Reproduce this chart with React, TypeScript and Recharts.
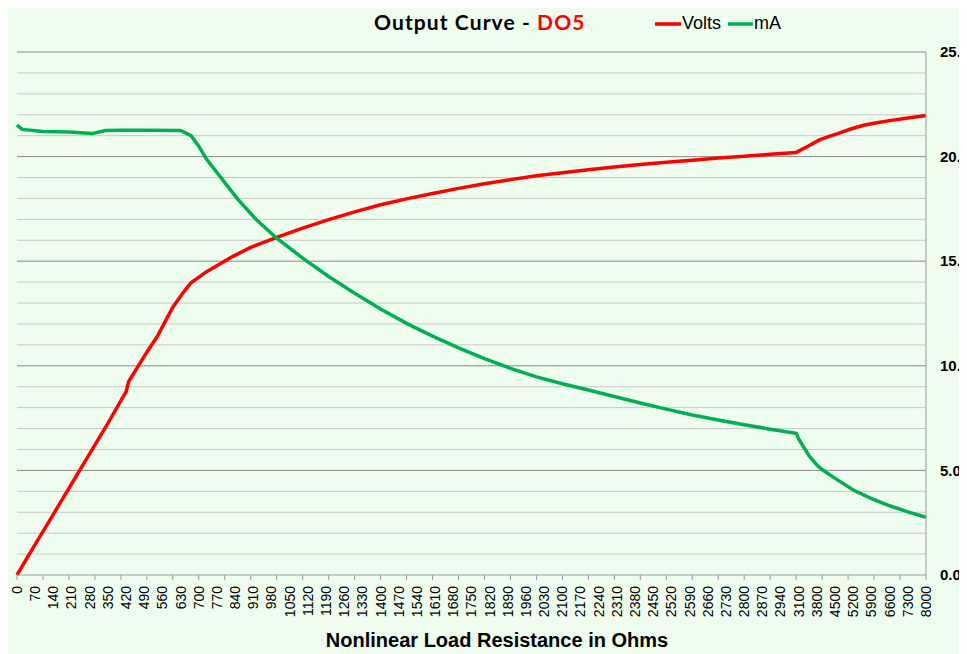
import { LineChart, Line, XAxis, YAxis, ReferenceLine } from "recharts";

// Output curve DO5 — volts and mA vs. nonlinear load resistance

// category axis: 10 ohm steps up to 3000, then 100 ohm steps to 8000
const ohms: number[] = [];
for (let r = 0; r <= 3000; r += 10) ohms.push(r);
for (let r = 3100; r <= 8000; r += 100) ohms.push(r);

// readings taken off the curve [ohms, value]
const voltsReadings: [number, number][] = [
  [0, 0], [70, 1.46], [140, 2.9], [210, 4.35], [280, 5.8], [350, 7.25],
  [410, 8.55], [420, 8.75], [430, 9.25], [500, 10.65], [540, 11.4], [570, 12.1],
  [600, 12.8], [640, 13.5], [670, 13.97], [730, 14.5], [830, 15.22], [900, 15.66],
  [1000, 16.14], [1100, 16.58], [1200, 16.99], [1300, 17.36], [1400, 17.7],
  [1500, 17.98], [1600, 18.24], [1700, 18.48], [1800, 18.7], [1900, 18.9],
  [2000, 19.08], [2100, 19.23], [2200, 19.37], [2300, 19.5], [2400, 19.62],
  [2500, 19.73], [2600, 19.83], [2700, 19.93], [2800, 20.02], [2900, 20.11],
  [3000, 20.2], [3400, 20.46], [3900, 20.8], [4300, 20.98], [4600, 21.1],
  [5100, 21.32], [5600, 21.5], [6100, 21.62], [6600, 21.72], [7300, 21.85],
  [8000, 21.96],
];

const mAReadings: [number, number][] = [
  [0, 21.5], [20, 21.3], [100, 21.2], [200, 21.18], [290, 21.1], [340, 21.25],
  [400, 21.26], [500, 21.26], [630, 21.25], [670, 21.0], [700, 20.5], [730, 19.87],
  [795, 18.88], [850, 17.97], [920, 17.0], [1000, 16.1], [1100, 15.15],
  [1200, 14.27], [1300, 13.47], [1400, 12.71], [1500, 12.03], [1600, 11.42],
  [1700, 10.86], [1800, 10.34], [1900, 9.88], [2000, 9.47], [2100, 9.14],
  [2200, 8.84], [2300, 8.53], [2400, 8.22], [2500, 7.93], [2600, 7.65],
  [2700, 7.41], [2800, 7.18], [2900, 6.97], [3000, 6.77], [3100, 6.5],
  [3200, 6.3], [3300, 6.1], [3500, 5.69], [3800, 5.26], [4000, 5.04],
  [4500, 4.62], [5200, 4.06], [5900, 3.65], [6600, 3.31], [7300, 3.02], [8000, 2.76],
];

const yTicks = [0, 5, 10, 15, 20, 25];
const gridValues = Array.from({ length: 25 }, (_, i) => i + 1);

const volts = new Map(voltsReadings);
const mA = new Map(mAReadings);
const chartData = ohms.map((r) => ({
  name: String(r),
  volts: volts.has(r) ? volts.get(r) : null,
  mA: mA.has(r) ? mA.get(r) : null,
}));

const BG = "#eefdee";
const FONT = "'Liberation Sans', Arial, sans-serif";

function OhmTick(props: any) {
  const { x, y, payload } = props;
  const i = props.index ?? payload?.index ?? 0;
  return (
    <g>
      {i % 10 === 0 && <line x1={x} y1={y} x2={x} y2={y + 5} stroke="#999" strokeWidth={1} />}
      {i % 7 === 0 && (
        <text
          transform={`translate(${x},${y + 11}) rotate(-90)`}
          textAnchor="end"
          dy="0.35em"
          fontSize={14}
          fontFamily={FONT}
          fill="#000"
        >
          {payload.value}
        </text>
      )}
    </g>
  );
}

function ValueTick(props: any) {
  const { x, y, payload } = props;
  return (
    <text x={x + 14} y={y} dy="0.35em" fontSize={15} fontWeight={700} fontFamily={FONT} fill="#000">
      {Number(payload.value).toFixed(1)}
    </text>
  );
}

export default function App() {
  return (
    <div style={{ position: "relative", width: 951, height: 646, overflow: "hidden", background: BG }}>
      <div
        style={{
          position: "absolute",
          left: 366,
          top: 1,
          fontFamily: "Lato, sans-serif",
          fontWeight: 700,
          fontSize: 21,
          letterSpacing: 1.1,
          whiteSpace: "nowrap",
          color: "#000",
        }}
      >
        Output Curve - <span style={{ color: "#ff0000" }}>DO5</span>
      </div>

      <div
        style={{
          position: "absolute",
          left: 647,
          top: 5,
          display: "flex",
          alignItems: "center",
          fontFamily: FONT,
          fontSize: 18,
          whiteSpace: "nowrap",
        }}
      >
        <svg width={26} height={6}><line x1={0} y1={3} x2={26} y2={3} stroke="#ff0000" strokeWidth={3.5} /></svg>
        <span style={{ marginLeft: 1, marginRight: 7 }}>Volts</span>
        <svg width={25} height={6}><line x1={0} y1={3} x2={25} y2={3} stroke="#00b050" strokeWidth={3.5} /></svg>
        <span style={{ marginLeft: 1 }}>mA</span>
      </div>

      <div style={{ position: "absolute", left: 0, top: 0 }}>
        <LineChart
          width={1000}
          height={646}
          data={chartData}
          margin={{ top: 44, right: 22, left: 9, bottom: 0 }}
        >
          {gridValues.map((v) => (
            <ReferenceLine
              key={v}
              y={v}
              stroke={v % 5 === 0 ? "#8a8a8a" : "#c8c8c8"}
              strokeWidth={1}
              ifOverflow="extendDomain"
            />
          ))}
          <XAxis
            dataKey="name"
            scale="point"
            interval={0}
            height={79}
            tick={<OhmTick />}
            tickLine={false}
            tickSize={0}
            tickMargin={0}
            axisLine={{ stroke: "#999" }}
          />
          <YAxis
            orientation="right"
            domain={[0, 25]}
            ticks={yTicks}
            width={60}
            tick={<ValueTick />}
            tickLine={false}
            tickSize={0}
            tickMargin={0}
            axisLine={{ stroke: "#9a9a9a" }}
          />
          <Line
            type="linear"
            dataKey="volts"
            name="Volts"
            stroke="#ff0000"
            strokeWidth={3.5}
            dot={false}
            connectNulls
            isAnimationActive={false}
          />
          <Line
            type="linear"
            dataKey="mA"
            name="mA"
            stroke="#00b050"
            strokeWidth={3.5}
            dot={false}
            connectNulls
            isAnimationActive={false}
          />
        </LineChart>
      </div>

      <div
        style={{
          position: "absolute",
          left: 289,
          width: 400,
          top: 621,
          textAlign: "center",
          fontFamily: FONT,
          fontWeight: 700,
          fontSize: 20,
          whiteSpace: "nowrap",
        }}
      >
        Nonlinear Load Resistance in Ohms
      </div>
    </div>
  );
}
